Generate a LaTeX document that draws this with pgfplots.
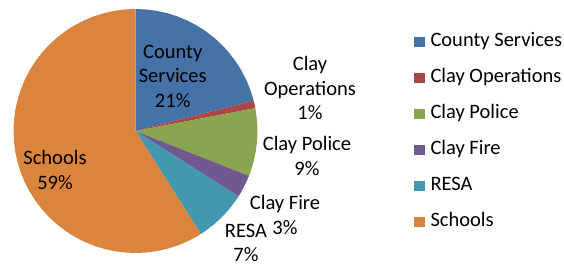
\documentclass[border=0pt]{standalone}
\usepackage{pgfplots}
\pgfplotsset{compat=1.18}
\usepgfplotslibrary{polar}
\usepackage{fontspec}
\setmainfont{Carlito}
\definecolor{cBlue}{HTML}{4572A7}
\definecolor{cRed}{HTML}{AA4643}
\definecolor{cGreen}{HTML}{89A54E}
\definecolor{cPurple}{HTML}{71588F}
\definecolor{cAqua}{HTML}{4198AF}
\definecolor{cOrange}{HTML}{DB843D}
\begin{document}
\begin{tikzpicture}[x=1pt,y=1pt]
\useasboundingbox (0,0) rectangle (564,266);
\begin{polaraxis}[
  at={(135.5pt,135pt)}, anchor=center,
  width=244pt, height=244pt, scale only axis,
  ymin=0, ymax=122, hide axis, clip=false,
  legend cell align=left,
  legend image code/.code={\fill[#1] (0pt,-5.2pt) rectangle (10.4pt,5.2pt);},
  legend style={at={(1.641,0.496)}, anchor=west, draw=none, fill=none,
    inner sep=0pt, row sep=16pt, column sep=6pt,
    nodes={inner sep=0pt, text height=15pt, text depth=5pt},
    font=\fontsize{20.5}{24.5}\selectfont},
]
% County Services 21%
\addplot[fill=cBlue, draw=none] coordinates {(0,0) (90,122) (85,122) (80,122) (75,122) (70,122) (65,122) (60,122) (55,122) (50,122) (45,122) (40,122) (35,122) (30,122) (25,122) (20,122) (15,122) (14.4,122)} -- cycle;
% Clay Operations 1%
\addplot[fill=cRed, draw=none] coordinates {(0,0) (14.4,122) (12.6,122) (10.8,122)} -- cycle;
% Clay Police 9%
\addplot[fill=cGreen, draw=none] coordinates {(0,0) (10.8,122) (5,122) (0,122) (-5,122) (-10,122) (-15,122) (-20,122) (-21.6,122)} -- cycle;
% Clay Fire 3%
\addplot[fill=cPurple, draw=none] coordinates {(0,0) (-21.6,122) (-25,122) (-30,122) (-32.4,122)} -- cycle;
% RESA 7%
\addplot[fill=cAqua, draw=none] coordinates {(0,0) (-32.4,122) (-35,122) (-40,122) (-45,122) (-50,122) (-55,122) (-57.6,122)} -- cycle;
% Schools 59%
\addplot[fill=cOrange, draw=none] coordinates {(0,0) (-57.6,122) (-60,122) (-65,122) (-70,122) (-75,122) (-80,122) (-85,122) (-90,122) (-95,122) (-100,122) (-105,122) (-110,122) (-115,122) (-120,122) (-125,122) (-130,122) (-135,122) (-140,122) (-145,122) (-150,122) (-155,122) (-160,122) (-165,122) (-170,122) (-175,122) (-180,122) (-185,122) (-190,122) (-195,122) (-200,122) (-205,122) (-210,122) (-215,122) (-220,122) (-225,122) (-230,122) (-235,122) (-240,122) (-245,122) (-250,122) (-255,122) (-260,122) (-265,122) (-270,122)} -- cycle;
\legend{County Services, Clay Operations, Clay Police, Clay Fire, RESA, Schools}
\end{polaraxis}
\begin{scope}[every node/.style={align=center, inner sep=0pt, font=\fontsize{20.5}{24.5}\selectfont}]
\node at (172.7,190) {County\\Services\\21\%};
\node at (310,178) {Clay\\Operations\\1\%};
\node at (307,110) {Clay Police\\9\%};
\node at (285,51) {Clay Fire\\3\%};
\node at (246,23) {RESA\\7\%};
\node at (55,96) {Schools\\59\%};
\end{scope}
\end{tikzpicture}
\end{document}
